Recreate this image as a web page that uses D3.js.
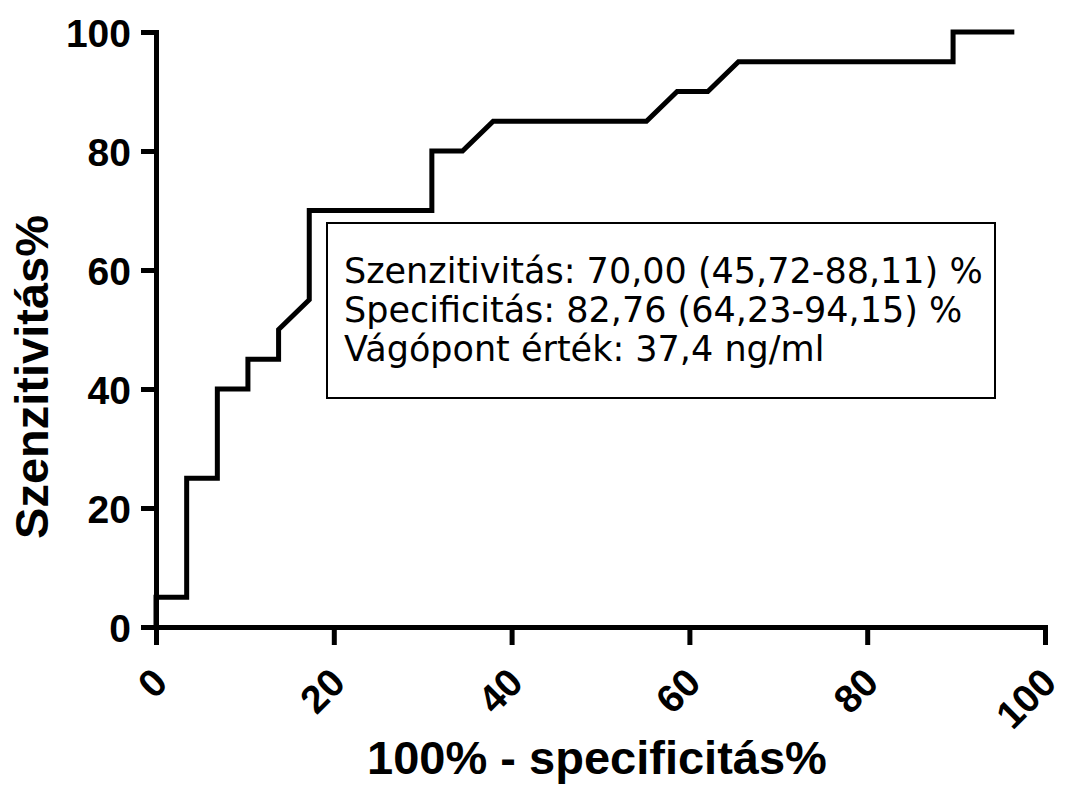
<!DOCTYPE html>
<html>
<head>
<meta charset="utf-8">
<script src="https://cdn.jsdelivr.net/npm/d3@7"></script>
<style>
html,body{margin:0;padding:0;background:#fff;}
svg{display:block;}
</style>
</head>
<body>
<svg id="chart" width="1065" height="789"></svg>
<script>
// ROC curve points (100% - specificity %, sensitivity %)
const fpr  = [0, 0, 3.45, 3.45, 6.90, 6.90, 10.34, 10.34, 13.79, 13.79, 17.24, 17.24, 31.03, 31.03, 34.48, 37.93, 55.17, 58.62, 62.07, 65.52, 89.66, 89.66, 96.55];
const sens = [0, 5, 5, 25, 25, 40, 40, 45, 45, 50, 55, 70, 70, 80, 80, 85, 85, 90, 90, 95, 95, 100, 100];
const xTicks = [0, 20, 40, 60, 80, 100];
const yTicks = [0, 20, 40, 60, 80, 100];
const xTitle = "100% - specificitás%";
const yTitle = "Szenzitivitás%";
const boxLines = [
  "Szenzitivitás: 70,00 (45,72-88,11) %",
  "Specificitás: 82,76 (64,23-94,15) %",
  "Vágópont érték: 37,4 ng/ml"
];

const svg = d3.select("#chart");
const boldFont = "'Liberation Sans', Arial, Helvetica, sans-serif";

const x = d3.scaleLinear().domain([0, 100]).range([156, 1045]);
const y = d3.scaleLinear().domain([0, 100]).range([627, 32]);

// curve
const pts = fpr.map((v, i) => [v, sens[i]]);
svg.append("path")
  .datum(pts)
  .attr("fill", "none")
  .attr("stroke", "#000")
  .attr("stroke-width", 5)
  .attr("stroke-linejoin", "miter")
  .attr("d", d3.line().x(d => x(d[0])).y(d => y(d[1])));

// y axis
const yAxis = svg.append("g")
  .attr("transform", `translate(${x(0)},0)`)
  .call(d3.axisLeft(y).tickValues(yTicks).tickSize(15).tickSizeOuter(0).tickPadding(10));
yAxis.select(".domain").attr("stroke-width", 5).attr("stroke-linecap", "square");
yAxis.selectAll(".tick line").attr("stroke-width", 5);
yAxis.selectAll(".tick text")
  .attr("font-family", boldFont).attr("font-weight", "bold").attr("font-size", 39)
  .attr("fill", "#000").attr("dy", "0.36em");

// x axis
const xAxis = svg.append("g")
  .attr("transform", `translate(0,${y(0)})`)
  .call(d3.axisBottom(x).tickValues(xTicks).tickSize(18).tickSizeOuter(0));
xAxis.select(".domain").attr("stroke-width", 5).attr("stroke-linecap", "square");
xAxis.selectAll(".tick line").attr("stroke-width", 5);
xAxis.selectAll(".tick text")
  .attr("font-family", boldFont).attr("font-weight", "bold").attr("font-size", 39)
  .attr("fill", "#000")
  .attr("text-anchor", "end")
  .attr("x", 0).attr("y", 0).attr("dy", null)
  .attr("transform", "translate(13,58) rotate(-45)");

// titles
svg.append("text")
  .attr("x", 597).attr("y", 774)
  .attr("text-anchor", "middle")
  .attr("font-family", boldFont).attr("font-weight", "bold").attr("font-size", 47)
  .text(xTitle);

svg.append("text")
  .attr("transform", "translate(48,377) rotate(-90)")
  .attr("text-anchor", "middle")
  .attr("font-family", boldFont).attr("font-weight", "bold").attr("font-size", 47)
  .text(yTitle);

// annotation box
svg.append("rect")
  .attr("x", 327).attr("y", 223).attr("width", 668).attr("height", 175)
  .attr("fill", "#fff").attr("stroke", "#000").attr("stroke-width", 2);

svg.append("g").selectAll("text").data(boxLines).join("text")
  .attr("x", 344)
  .attr("y", (d, i) => 283 + i * 39)
  .attr("font-family", "'DejaVu Sans', Verdana, sans-serif")
  .attr("font-size", 35)
  .attr("fill", "#000")
  .text(d => d);
</script>
</body>
</html>
